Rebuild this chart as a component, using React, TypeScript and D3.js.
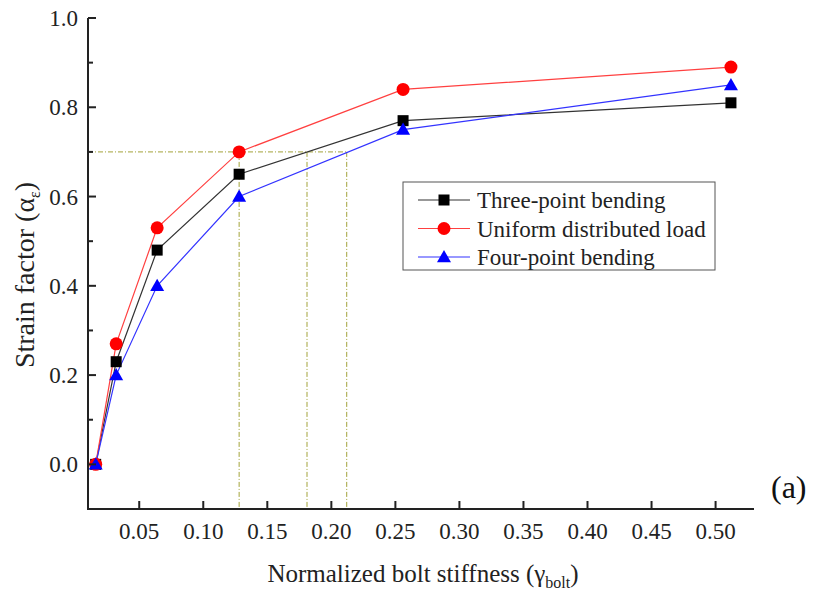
import React, { useEffect, useRef } from "react";
import * as d3 from "d3";

const xVals = [0.016, 0.032, 0.064, 0.128, 0.256, 0.512];
const threePoint = [0, 0.23, 0.48, 0.65, 0.77, 0.81];
const uniformLoad = [0, 0.27, 0.53, 0.7, 0.84, 0.89];
const fourPoint = [0, 0.2, 0.4, 0.6, 0.75, 0.85];
const xTicks = [0.05, 0.1, 0.15, 0.2, 0.25, 0.3, 0.35, 0.4, 0.45, 0.5];
const yTicks = [0, 0.2, 0.4, 0.6, 0.8, 1.0];
const refY = 0.7;
const refX = [0.128, 0.181, 0.212];

const App = () => {
  const ref = useRef<SVGSVGElement>(null);

  useEffect(() => {
    const width = 815;
    const height = 599;
    const svg = d3.select(ref.current).attr("width", width).attr("height", height);
    svg.selectAll("*").remove();

    const font = "Liberation Serif, DejaVu Serif, serif";
    const left = 88, right = 754, top = 18, bottom = 509;

    const x = d3.scaleLinear().domain([0.01, 0.53]).range([left, right]);
    const y = d3.scaleLinear().domain([-0.1, 1.0]).range([bottom, top]);

    // reference dash-dot lines
    const refColor = "#a3a33a";
    svg.append("line")
      .attr("x1", left).attr("x2", x(d3.max(refX)!))
      .attr("y1", y(refY)).attr("y2", y(refY))
      .attr("stroke", refColor).attr("stroke-width", 1)
      .attr("stroke-dasharray", "5,2,1,2");
    refX.forEach(v => {
      svg.append("line")
        .attr("x1", x(v)).attr("x2", x(v))
        .attr("y1", y(refY)).attr("y2", bottom)
        .attr("stroke", refColor).attr("stroke-width", 1)
        .attr("stroke-dasharray", "5,2,1,2");
    });

    const series = [
      { name: "Three-point bending", vals: threePoint, color: "#000000", line: "#333333", marker: "square" },
      { name: "Uniform distributed load", vals: uniformLoad, color: "#ff0000", line: "#ff4040", marker: "circle" },
      { name: "Four-point bending", vals: fourPoint, color: "#0000ff", line: "#3333ff", marker: "triangle" },
    ];

    const drawMarker = (g: any, kind: string, cx: number, cy: number, color: string) => {
      if (kind === "square") {
        g.append("rect").attr("x", cx - 5.5).attr("y", cy - 5.5)
          .attr("width", 11).attr("height", 11).attr("fill", color);
      } else if (kind === "circle") {
        g.append("circle").attr("cx", cx).attr("cy", cy).attr("r", 6.5).attr("fill", color);
      } else {
        const s = 7;
        g.append("path")
          .attr("d", `M${cx},${cy - s}L${cx + s},${cy + s * 0.75}L${cx - s},${cy + s * 0.75}Z`)
          .attr("fill", color);
      }
    };

    const line = d3.line<number>().x((_, i) => x(xVals[i])).y(d => y(d));

    series.forEach(s => {
      svg.append("path").datum(s.vals).attr("d", line)
        .attr("fill", "none").attr("stroke", s.line).attr("stroke-width", 1.2);
    });
    series.forEach(s => {
      const g = svg.append("g");
      s.vals.forEach((v, i) => drawMarker(g, s.marker, x(xVals[i]), y(v), s.color));
    });

    // axes
    const axisG = svg.append("g");
    axisG.append("line").attr("x1", left).attr("x2", left).attr("y1", top).attr("y2", bottom)
      .attr("stroke", "#222").attr("stroke-width", 2);
    axisG.append("line").attr("x1", left - 1).attr("x2", right).attr("y1", bottom).attr("y2", bottom)
      .attr("stroke", "#222").attr("stroke-width", 2);

    d3.range(-0.1, 1.0001, 0.1).forEach(v => {
      const major = yTicks.some(t => Math.abs(t - v) < 1e-6);
      axisG.append("line").attr("x1", left).attr("x2", left + (major ? 8 : 5))
        .attr("y1", y(v)).attr("y2", y(v)).attr("stroke", "#222").attr("stroke-width", 2);
    });
    yTicks.forEach(v => {
      axisG.append("text").attr("x", left - 10).attr("y", y(v)).attr("dy", "0.35em")
        .attr("text-anchor", "end").attr("font-family", font).attr("font-size", 23)
        .attr("fill", "#222").text(v.toFixed(1));
    });
    xTicks.forEach(v => {
      axisG.append("line").attr("x1", x(v)).attr("x2", x(v))
        .attr("y1", bottom).attr("y2", bottom - 8).attr("stroke", "#222").attr("stroke-width", 2);
      axisG.append("text").attr("x", x(v)).attr("y", bottom + 30)
        .attr("text-anchor", "middle").attr("font-family", font).attr("font-size", 23)
        .attr("fill", "#222").text(v.toFixed(2));
    });

    // axis titles
    const xt = svg.append("text").attr("x", 423).attr("y", 582).attr("text-anchor", "middle")
      .attr("font-family", font).attr("font-size", 25).attr("fill", "#222");
    xt.append("tspan").text("Normalized bolt stiffness (γ");
    xt.append("tspan").attr("font-size", 16).attr("dy", 6).text("bolt");
    xt.append("tspan").attr("dy", -6).text(")");

    const yt = svg.append("text").attr("transform", `translate(34,275) rotate(-90)`)
      .attr("text-anchor", "middle").attr("font-family", font).attr("font-size", 28).attr("fill", "#222");
    yt.append("tspan").text("Strain factor (α");
    yt.append("tspan").attr("font-size", 16).attr("dy", 6).text("ε");
    yt.append("tspan").attr("dy", -6).text(")");

    svg.append("text").attr("x", 771).attr("y", 498).attr("font-family", font)
      .attr("font-size", 32).attr("fill", "#111").text("(a)");

    // legend
    const lg = svg.append("g");
    lg.append("rect").attr("x", 403).attr("y", 182).attr("width", 312).attr("height", 88)
      .attr("fill", "#fff").attr("stroke", "#555").attr("stroke-width", 1);
    series.forEach((s, i) => {
      const ly = 200 + i * 28.5;
      lg.append("line").attr("x1", 418).attr("x2", 470).attr("y1", ly).attr("y2", ly)
        .attr("stroke", s.line).attr("stroke-width", 1.2);
      drawMarker(lg, s.marker, 444, ly, s.color);
      lg.append("text").attr("x", 477).attr("y", ly).attr("dy", "0.35em")
        .attr("font-family", font).attr("font-size", 23).attr("fill", "#222").text(s.name);
    });
  }, []);

  return <svg ref={ref} style={{ position: "absolute", left: 0, top: 0 }}></svg>;
};

export default App;
